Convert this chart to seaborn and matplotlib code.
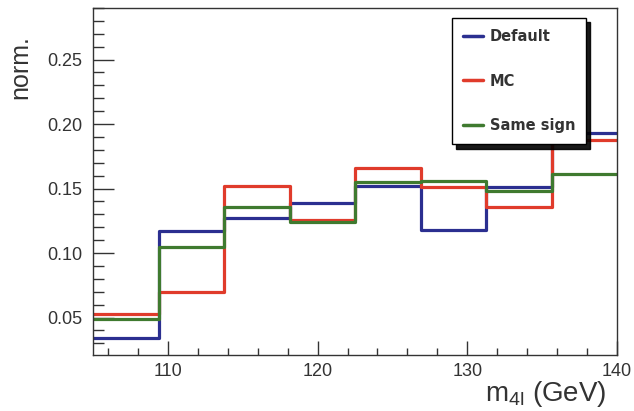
import numpy as np
import pandas as pd
import matplotlib
matplotlib.use("Agg")
import matplotlib.pyplot as plt
import seaborn as sns
from matplotlib.lines import Line2D
from matplotlib.ticker import MultipleLocator

# Bin edges (GeV) and normalised contents
edges = [105.0, 109.375, 113.75, 118.125, 122.5, 126.875, 131.25, 135.625, 140.0]
default_vals = [0.034, 0.117, 0.127, 0.139, 0.152, 0.118, 0.151, 0.193]
mc_vals = [0.053, 0.070, 0.152, 0.126, 0.166, 0.151, 0.136, 0.188]
same_sign_vals = [0.049, 0.105, 0.136, 0.124, 0.155, 0.156, 0.148, 0.161]
labels = ["Default", "MC", "Same sign"]
colors = ["#2b2f90", "#e03b2b", "#3f7a2f"]

centers = [0.5 * (a + b) for a, b in zip(edges[:-1], edges[1:])]
df = pd.concat([
    pd.DataFrame({"m4l": centers, "norm": vals, "sample": lab})
    for vals, lab in zip([default_vals, mc_vals, same_sign_vals], labels)
])

sns.set_style("ticks")
plt.rcParams["font.family"] = ["Liberation Sans", "DejaVu Sans"]
plt.rcParams["mathtext.fontset"] = "custom"
plt.rcParams["mathtext.rm"] = "Liberation Sans"

fig = plt.figure(figsize=(6.34, 4.11), dpi=100)
ax = fig.add_axes([0.1467, 0.1363, 0.8265, 0.8443])

for lab, col in zip(labels, colors):
    sns.histplot(data=df[df["sample"] == lab], x="m4l", weights="norm", bins=edges,
                 element="step", fill=False, color=col, linewidth=2.3, ax=ax)

ax.set_xlim(105, 140)
ax.set_ylim(0.021, 0.290)
ax.set_xticks([110, 120, 130, 140])
ax.set_yticks([0.05, 0.10, 0.15, 0.20, 0.25])
ax.set_yticklabels(["0.05", "0.10", "0.15", "0.20", "0.25"])
ax.xaxis.set_minor_locator(MultipleLocator(2))
ax.yaxis.set_minor_locator(MultipleLocator(0.01))
ax.tick_params(axis="both", which="both", direction="in", top=False, right=False,
               labelsize=13, colors="#333333", labelcolor="#333333")
ax.tick_params(axis="y", which="major", length=15, width=1, pad=8)
ax.tick_params(axis="y", which="minor", length=8, width=1)
ax.tick_params(axis="x", which="major", length=10, width=1, pad=6)
ax.tick_params(axis="x", which="minor", length=5, width=1)
for s in ax.spines.values():
    s.set_linewidth(1.0)
    s.set_color("#333333")

ax.set_xlabel(r"m$_{\mathrm{4l}}$ (GeV)", fontsize=20, color="#333333")
ax.xaxis.set_label_coords(0.98, -0.068)
ax.xaxis.label.set_ha("right")
ax.set_ylabel("norm.", fontsize=18, color="#333333")
ax.yaxis.set_label_coords(-0.115, 0.83)

handles = [Line2D([0], [0], color=c, linewidth=2.5) for c in colors]
leg = ax.legend(handles, labels, loc="upper left", bbox_to_anchor=(0.685, 0.972),
                frameon=True, fancybox=False,
                shadow={"color": "black", "alpha": 0.9, "ox": 3, "oy": -3},
                edgecolor="black",
                prop={"family": "DejaVu Sans", "weight": "bold", "size": 10.5},
                handlelength=1.4, handletextpad=0.45, labelspacing=2.05,
                borderpad=0.75, borderaxespad=0)
leg.get_frame().set_linewidth(1.0)
for t in leg.get_texts():
    t.set_color("#333333")

fig.savefig("out.png", dpi=100)
